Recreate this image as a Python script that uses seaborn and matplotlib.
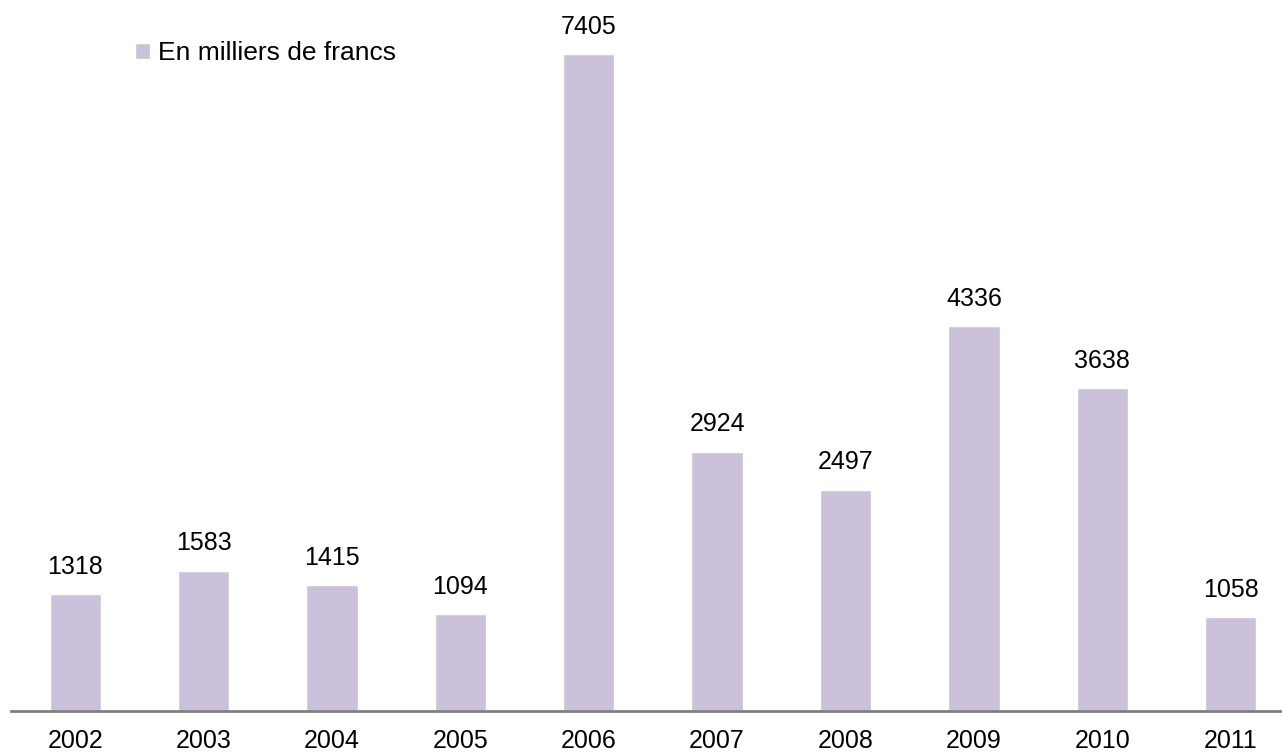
import matplotlib
matplotlib.use("Agg")
import matplotlib.pyplot as plt
import pandas as pd
import seaborn as sns

years = ["2002", "2003", "2004", "2005", "2006", "2007", "2008", "2009", "2010", "2011"]
values = [1318, 1583, 1415, 1094, 7405, 2924, 2497, 4336, 3638, 1058]
series_label = "En milliers de francs"

bar_color = "#CBC1DA"

sns.set_style("white")
plt.rcParams["font.family"] = ["Liberation Sans", "DejaVu Sans"]
plt.rcParams["text.color"] = "black"

df = pd.DataFrame({"year": years, "value": values})

fig = plt.figure(figsize=(12.82, 7.53), dpi=100)
ax = fig.add_axes([11 / 1282, 42 / 753, 1271 / 1282, 711 / 753])

sns.barplot(data=df, x="year", y="value", color=bar_color, width=0.4,
            saturation=1, label=series_label, ax=ax)

for i, v in enumerate(values):
    ax.annotate(str(v), xy=(i, v), xytext=(0, 11), textcoords="offset points",
                ha="center", va="bottom", fontsize=18, color="black")

ax.set_xlim(-0.5, 9.4)
ax.set_ylim(0, 8016)
ax.set_xlabel("")
ax.set_ylabel("")
ax.set_yticks([])
ax.tick_params(axis="x", length=0, pad=13, labelsize=18, labelcolor="black")
for side in ["top", "right", "left"]:
    ax.spines[side].set_visible(False)
ax.spines["bottom"].set_color("#808080")
ax.spines["bottom"].set_linewidth(2)

leg = ax.legend(loc="upper left", bbox_to_anchor=(135 / 1282, 1 - 41 / 753),
                bbox_transform=fig.transFigure, frameon=False, fontsize=19,
                borderpad=0, borderaxespad=0, handlelength=0.56, handleheight=0.56,
                handletextpad=0.3)
for t in leg.get_texts():
    t.set_color("black")

fig.savefig("out.png", dpi=100)
